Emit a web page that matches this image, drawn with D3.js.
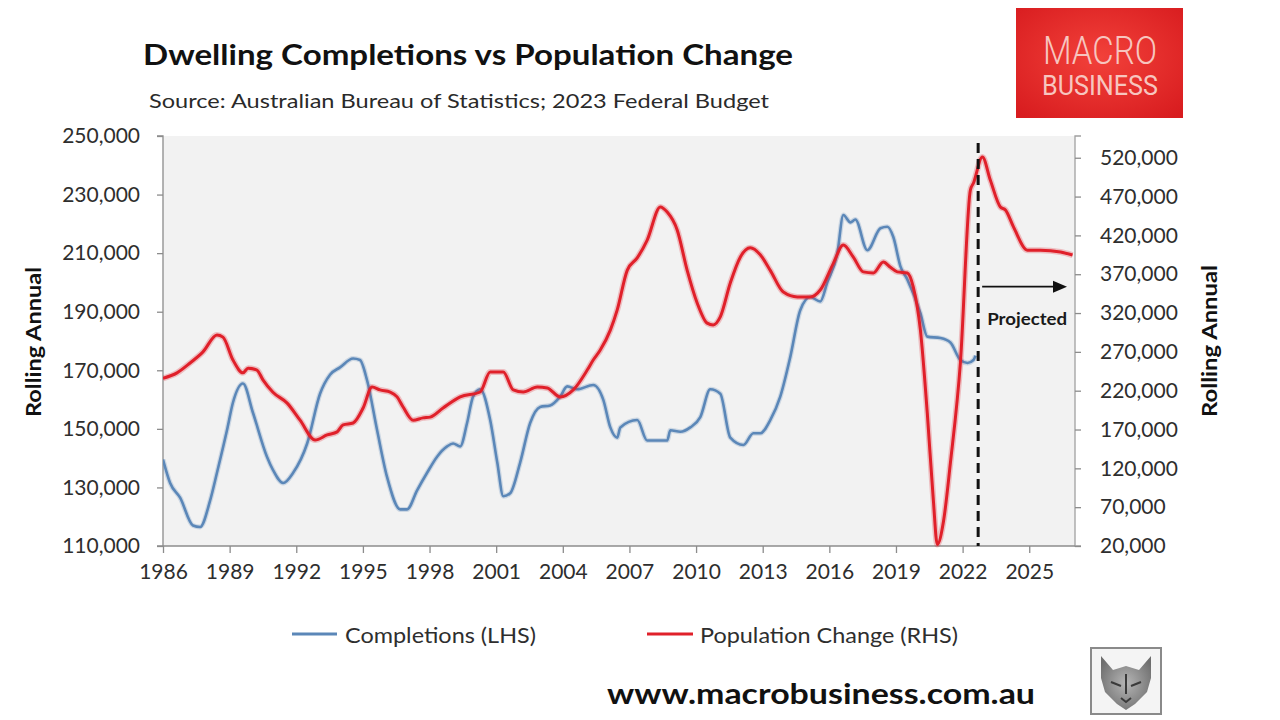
<!DOCTYPE html>
<html>
<head>
<meta charset="utf-8">
<script src="https://cdn.jsdelivr.net/npm/d3@7/dist/d3.min.js"></script>
<style>
  html, body { margin: 0; padding: 0; background: #ffffff; }
  svg { display: block; }
</style>
</head>
<body>
<svg id="chart" width="1280" height="720"></svg>
<script>
// ---------------- DATA ----------------
const completionsYears = [1986.00,1986.32,1986.77,1987.35,1987.67,1988.12,1988.43,1988.88,1989.15,1989.60,
  1990.05,1990.68,1990.95,1991.41,1991.86,1992.49,1993.07,1993.52,1993.97,1994.56,1994.87,1995.19,1995.64,
  1996.09,1996.68,1996.99,1997.44,1997.89,1998.34,1998.79,1999.06,1999.38,1999.69,1999.96,2000.28,2000.73,
  2001.05,2001.32,2001.63,2002.08,2002.53,2002.98,2003.43,2003.88,2004.20,2004.65,2005.37,2005.82,2006.14,
  2006.45,2006.59,2007.35,2007.80,2008.70,2008.84,2009.29,2009.74,2010.19,2010.64,2011.09,2011.54,2012.13,
  2012.58,2012.89,2013.34,2013.79,2014.24,2014.69,2015.14,2015.59,2015.91,2016.36,2016.63,2016.95,2017.17,
  2017.71,2018.30,2018.61,2018.88,2019.20,2019.51,2020.10,2020.41,2021.00,2021.45,2021.90,2022.22,2022.49,2022.58];
const completionsValues = [139500,131500,126500,117000,116500,125500,135000,149500,159000,165500,
  155500,140500,136000,131500,135000,145000,162000,168500,171000,174000,173500,166500,149500,
  133500,122500,122500,129000,135000,140500,144000,145000,144000,152000,161000,163500,153000,
  138500,127000,128000,138500,152000,157500,158000,161000,164500,163500,165000,160000,150500,
  147000,150500,153000,146000,146000,149500,149000,150500,154000,163500,162000,147000,144500,
  148500,148500,153000,161000,174500,190500,195000,193500,200000,210000,223000,220500,221500,
  211000,218500,219000,215500,205500,201000,189500,181500,181000,179500,173500,172500,173500,175000];

const populationYears = [1986.00,1986.63,1987.22,1987.80,1988.43,1988.70,1989.15,1989.60,1989.83,1990.23,
  1990.50,1990.95,1991.59,1992.17,1992.85,1993.39,1993.84,1994.11,1994.56,1995.01,1995.41,1995.77,1996.23,
  1996.54,1996.81,1997.26,1997.71,1998.03,1998.61,1999.38,2000.28,2000.73,2001.32,2001.77,2002.22,2002.85,
  2003.30,2003.88,2004.47,2005.10,2005.37,2005.68,2006.14,2006.45,2006.90,2007.35,2007.80,2008.39,2008.70,
  2009.15,2009.60,2010.05,2010.50,2010.77,2011.09,2011.54,2011.99,2012.44,2012.89,2013.34,2013.93,2014.56,
  2015.14,2015.59,2016.18,2016.63,2017.08,2017.53,2017.98,2018.43,2018.75,2019.06,2019.51,2019.78,2020.10,
  2020.41,2020.68,2020.86,2021.14,2021.45,2021.90,2022.35,2022.49,2022.89,2023.25,2023.70,2023.93,2024.29,
  2024.92,2025.50,2026.41,2026.95];
const populationValues = [236000,243000,255700,270000,291700,289000,259500,243000,249000,246600,
  234000,218000,204000,182000,156500,163000,167000,176000,178400,197700,224800,221000,218300,
  212000,199000,182000,185000,186000,197700,212000,218300,244000,244000,221000,218300,224800,
  223500,212000,221000,246600,259500,272000,298000,324000,375000,391000,414000,456600,450000,
  427000,375000,333000,307000,304600,315000,358700,392000,404000,395000,375000,347000,340700,
  340700,349700,384000,407600,392000,373000,371600,385700,379000,373000,371600,353500,298000,
  191000,80000,22000,52000,127000,256000,478500,487500,521000,491000,456600,452700,431000,
  401000,401000,398600,394700];

const xTickYears = [1986,1989,1992,1995,1998,2001,2004,2007,2010,2013,2016,2019,2022,2025];
const leftTicks = [110000,130000,150000,170000,190000,210000,230000,250000];
const rightTicks = [20000,70000,120000,170000,220000,270000,320000,370000,420000,470000,520000];
const projectionStart = 2022.7;
const projectionArrowEnd = 2026.7;
const projectionArrowLevel = 354000;   // on RHS scale
const projectionLabelLevel = 313000;   // on RHS scale

const titleText = "Dwelling Completions vs Population Change";
const subtitleText = "Source: Australian Bureau of Statistics; 2023 Federal Budget";
const axisTitleText = "Rolling Annual";
const legendLabels = ["Completions (LHS)", "Population Change (RHS)"];
const footerText = "www.macrobusiness.com.au";

// ---------------- LAYOUT ----------------
const plot = { left: 163, right: 1075, top: 136, bottom: 546 };
const blue = "#5b87b8";
const red = "#e0202a";
const axisGrey = "#8c8c8c";
const textCol = "#2e2e2e";
const FONT = "Lato, 'Open Sans', 'DejaVu Sans', sans-serif";

const svg = d3.select("#chart");

const x = d3.scaleLinear().domain([1986, 2027.06]).range([plot.left, plot.right]);
const yL = d3.scaleLinear().domain([110000, 250000]).range([plot.bottom, plot.top]);
const yR = d3.scaleLinear().domain([20000, 548000]).range([plot.bottom, plot.top]);

// defs
const defs = svg.append("defs");
const rg = defs.append("radialGradient").attr("id", "logoGrad").attr("cx", "50%").attr("cy", "45%").attr("r", "70%");
rg.append("stop").attr("offset", "0%").attr("stop-color", "#f2413a");
rg.append("stop").attr("offset", "100%").attr("stop-color", "#d81c1f");
const wg = defs.append("radialGradient").attr("id", "wolfGrad").attr("cx", "50%").attr("cy", "50%").attr("r", "60%");
wg.append("stop").attr("offset", "0%").attr("stop-color", "#b5b5b5");
wg.append("stop").attr("offset", "100%").attr("stop-color", "#6e6e6e");
defs.append("clipPath").attr("id", "plotClip").append("rect")
  .attr("x", plot.left).attr("y", plot.top - 2).attr("width", plot.right - plot.left).attr("height", plot.bottom - plot.top + 4);

// plot background
svg.append("rect").attr("x", plot.left).attr("y", plot.top)
  .attr("width", plot.right - plot.left).attr("height", plot.bottom - plot.top)
  .attr("fill", "#f2f2f2");

// axes
const fmt = d3.format(",");
const gL = svg.append("g").attr("transform", `translate(${plot.left},0)`)
  .call(d3.axisLeft(yL).tickValues(leftTicks).tickFormat(fmt).tickSize(6).tickPadding(17));
const gR = svg.append("g").attr("transform", `translate(${plot.right},0)`)
  .call(d3.axisRight(yR).tickValues(rightTicks).tickFormat(fmt).tickSize(6).tickPadding(19));
const gB = svg.append("g").attr("transform", `translate(0,${plot.bottom})`)
  .call(d3.axisBottom(x).tickValues(xTickYears).tickFormat(d3.format("d")).tickSize(7).tickPadding(11));
[gL, gR, gB].forEach(g => {
  g.select(".domain").attr("stroke", axisGrey).attr("stroke-width", 1.3);
  g.selectAll(".tick line").attr("stroke", axisGrey).attr("stroke-width", 1.3);
  g.selectAll("text").attr("font-family", FONT).attr("font-size", 21).attr("fill", textCol);
});
gL.select(".domain").attr("d", `M-6,${plot.top}H0V${plot.bottom}H-6`);
gR.select(".domain").attr("d", `M6,${plot.top}H0V${plot.bottom}H6`).attr("stroke", "#a0a0a0");
gB.select(".domain").attr("d", `M${plot.left},0H${plot.right}`);

// lines
const lineL = d3.line().x((d, i) => x(completionsYears[i])).y(d => yL(d)).curve(d3.curveMonotoneX);
const lineR = d3.line().x((d, i) => x(populationYears[i])).y(d => yR(d)).curve(d3.curveMonotoneX);
const lines = svg.append("g").attr("clip-path", "url(#plotClip)");

lines.append("path").datum(completionsValues).attr("d", lineL)
  .attr("fill", "none").attr("stroke", blue).attr("stroke-opacity", 0.25).attr("stroke-width", 5);
lines.append("path").datum(completionsValues).attr("d", lineL)
  .attr("fill", "none").attr("stroke", blue).attr("stroke-width", 2.6).attr("stroke-linejoin", "round");

lines.append("path").datum(populationValues).attr("d", lineR)
  .attr("fill", "none").attr("stroke", red).attr("stroke-opacity", 0.25).attr("stroke-width", 6);
lines.append("path").datum(populationValues).attr("d", lineR)
  .attr("fill", "none").attr("stroke", red).attr("stroke-width", 3).attr("stroke-linejoin", "round");

// projection marker
const px = x(projectionStart);
svg.append("line").attr("x1", px).attr("x2", px).attr("y1", plot.top + 7).attr("y2", plot.bottom)
  .attr("stroke", "#111").attr("stroke-width", 3).attr("stroke-dasharray", "10,6");
const ay = yR(projectionArrowLevel);
const ax2 = x(projectionArrowEnd);
svg.append("line").attr("x1", px + 4).attr("x2", ax2 - 12).attr("y1", ay).attr("y2", ay)
  .attr("stroke", "#111").attr("stroke-width", 1.6);
svg.append("path").attr("d", `M${ax2},${ay}L${ax2 - 14},${ay - 6}L${ax2 - 14},${ay + 6}Z`).attr("fill", "#111");
svg.append("text").attr("x", px + 9).attr("y", yR(projectionLabelLevel))
  .attr("dominant-baseline", "central")
  .attr("font-family", FONT).attr("font-weight", "bold").attr("font-size", 17).attr("fill", "#1a1a1a")
  .attr("textLength", 80).attr("lengthAdjust", "spacingAndGlyphs")
  .text("Projected");

// titles
svg.append("text").attr("x", 143).attr("y", 65)
  .attr("font-family", FONT).attr("font-weight", "bold").attr("font-size", 28).attr("fill", "#111")
  .attr("textLength", 650).attr("lengthAdjust", "spacingAndGlyphs")
  .text(titleText);
svg.append("text").attr("x", 149).attr("y", 108)
  .attr("font-family", FONT).attr("font-size", 20).attr("fill", "#2a2a2a")
  .attr("textLength", 620).attr("lengthAdjust", "spacingAndGlyphs")
  .text(subtitleText);

// axis titles
svg.append("text").attr("transform", `translate(33,342) rotate(-90)`)
  .attr("text-anchor", "middle").attr("dominant-baseline", "central")
  .attr("font-family", FONT).attr("font-weight", "bold").attr("font-size", 20).attr("fill", "#111")
  .attr("textLength", 150).attr("lengthAdjust", "spacingAndGlyphs")
  .text(axisTitleText);
svg.append("text").attr("transform", `translate(1209,341) rotate(-90)`)
  .attr("text-anchor", "middle").attr("dominant-baseline", "central")
  .attr("font-family", FONT).attr("font-weight", "bold").attr("font-size", 20).attr("fill", "#111")
  .attr("textLength", 152).attr("lengthAdjust", "spacingAndGlyphs")
  .text(axisTitleText);

// legend
const legendY = 634;
const legendItems = [
  { label: legendLabels[0], color: blue, x0: 292, x1: 337, tx: 345, tw: 191 },
  { label: legendLabels[1], color: red, x0: 647, x1: 693, tx: 700, tw: 258 }
];
legendItems.forEach(it => {
  svg.append("line").attr("x1", it.x0).attr("x2", it.x1).attr("y1", legendY).attr("y2", legendY)
    .attr("stroke", it.color).attr("stroke-width", 3);
  svg.append("text").attr("x", it.tx).attr("y", legendY).attr("dominant-baseline", "central")
    .attr("font-family", FONT).attr("font-size", 21).attr("fill", textCol)
    .attr("textLength", it.tw).attr("lengthAdjust", "spacingAndGlyphs")
    .text(it.label);
});

// footer
svg.append("text").attr("x", 607).attr("y", 692).attr("dominant-baseline", "central")
  .attr("font-family", FONT).attr("font-weight", "bold").attr("font-size", 29).attr("fill", "#111")
  .attr("textLength", 428).attr("lengthAdjust", "spacingAndGlyphs")
  .text(footerText);

// MacroBusiness logo
svg.append("rect").attr("x", 1016).attr("y", 8).attr("width", 167).attr("height", 110).attr("fill", "url(#logoGrad)");
svg.append("text").attr("x", 1100).attr("y", 64).attr("text-anchor", "middle")
  .attr("font-family", "Roboto, 'DejaVu Sans', sans-serif").attr("font-weight", 300).attr("font-size", 38)
  .attr("fill", "#f7c5bf").attr("textLength", 114).attr("lengthAdjust", "spacingAndGlyphs")
  .text("MACRO");
svg.append("text").attr("x", 1100).attr("y", 95).attr("text-anchor", "middle")
  .attr("font-family", "Roboto, 'DejaVu Sans', sans-serif").attr("font-weight", 400).attr("font-size", 27)
  .attr("fill", "#f7c5bf").attr("textLength", 116).attr("lengthAdjust", "spacingAndGlyphs")
  .text("BUSINESS");

// wolf emblem
const wolf = svg.append("g").attr("transform", "translate(1091,648)");
wolf.append("rect").attr("x", 0).attr("y", 0).attr("width", 70).attr("height", 66)
  .attr("fill", "#f4f4f4").attr("stroke", "#8a8a8a").attr("stroke-width", 2);
wolf.append("path")
  .attr("d", "M10,8 L22,22 L35,18 L48,22 L60,8 L60,30 L56,44 L44,56 L35,62 L26,56 L14,44 L10,30 Z")
  .attr("fill", "url(#wolfGrad)");
wolf.append("path").attr("d", "M20,34 L30,38 M40,38 L50,34 M30,50 L35,54 L40,50 M35,26 L35,46")
  .attr("stroke", "#3a3a3a").attr("stroke-width", 2).attr("fill", "none");
</script>
</body>
</html>
